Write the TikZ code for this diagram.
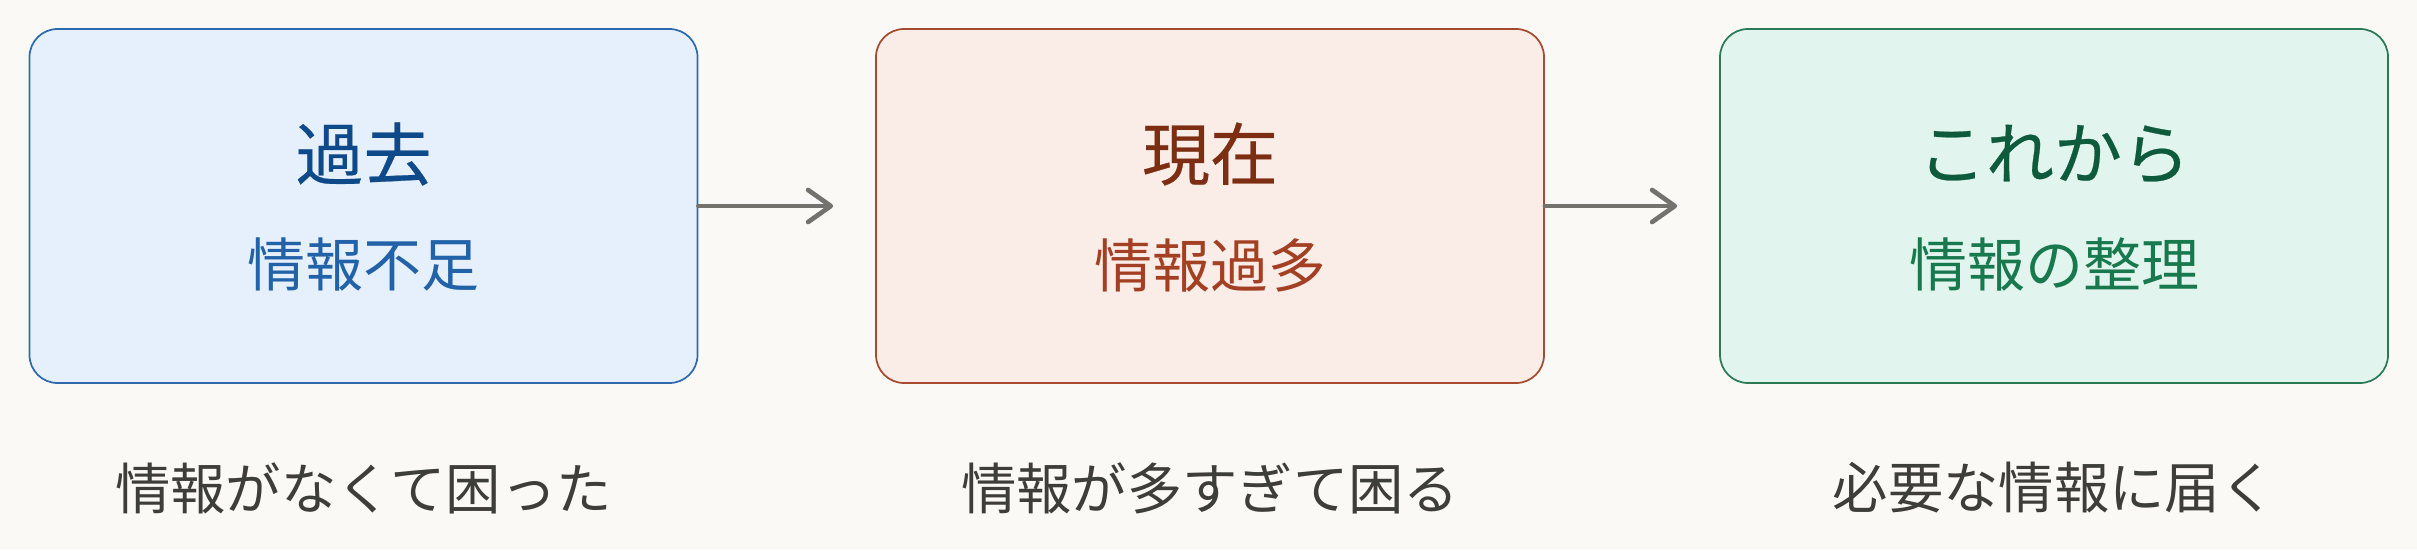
\documentclass[tikz,border=0pt]{standalone}
\usepackage{fontspec}
\setmainfont{Noto Sans CJK JP}
\newfontfamily\jpm[FakeBold=0.35]{Noto Sans CJK JP}
\usetikzlibrary{arrows.meta,calc}
\definecolor{bg}{HTML}{FAF9F6}
\definecolor{fillA}{HTML}{E6F0FC}
\definecolor{lineA}{HTML}{2E6AAD}
\definecolor{titleA}{HTML}{0E4A8A}
\definecolor{subA}{HTML}{2262A8}
\definecolor{fillB}{HTML}{FAEDE8}
\definecolor{lineB}{HTML}{A64B2E}
\definecolor{titleB}{HTML}{7C2D12}
\definecolor{subB}{HTML}{A33F22}
\definecolor{fillC}{HTML}{E1F5EE}
\definecolor{lineC}{HTML}{2B7A57}
\definecolor{titleC}{HTML}{0D5A3C}
\definecolor{subC}{HTML}{18794E}
\definecolor{arrowgray}{HTML}{73726C}
\definecolor{capgray}{HTML}{3D3D3A}
\tikzset{
  x=0.75pt, y=-0.75pt,
  stagebox/.style={draw, line width=1.3pt, rounded corners=21pt, minimum width=501pt, minimum height=265.5pt, inner sep=0pt},
  titletext/.style={inner sep=0pt, font=\jpm\fontsize{51pt}{60pt}\selectfont},
  subtext/.style={inner sep=0pt, font=\fontsize{43.5pt}{52pt}\selectfont},
  captext/.style={inner sep=0pt, text=capgray, font=\fontsize{41.5pt}{49pt}\selectfont},
  flow/.style={draw=arrowgray, line width=3.5pt, line cap=round,
    -{Straight Barb[length=17pt, width=24pt, line cap=round, line join=round]}},
}
\begin{document}
\begin{tikzpicture}
\fill[bg] (0,0) rectangle (2417,550);
\useasboundingbox (0,0) rectangle (2417,550);
\node[stagebox, draw=lineA, fill=fillA] (b1) at (363.5,206) {};
\node[stagebox, draw=lineB, fill=fillB] (b2) at (1210,206) {};
\node[stagebox, draw=lineC, fill=fillC] (b3) at (2054,206) {};
\node[titletext, text=titleA] (t1) at (363.5,154) {過去};
\node[subtext, text=subA] (s1) at (363.5,265) {情報不足};
\node[titletext, text=titleB] (t2) at (1210,154) {現在};
\node[subtext, text=subB] (s2) at (1210,265) {情報過多};
\node[titletext, text=titleC] (t3) at (2054,154) {これから};
\node[subtext, text=subC] (s3) at (2054,265) {情報の整理};
\node[captext] (c1) at (363.5,488) {情報がなくて困った};
\node[captext] (c2) at (1210,488) {情報が多すぎて困る};
\node[captext] (c3) at (2054,488) {必要な情報に届く};
\draw[flow] (b1.east) -- ($(b2.west)+(-42,0)$);
\draw[flow] (b2.east) -- ($(b3.west)+(-42,0)$);
\end{tikzpicture}
\end{document}
